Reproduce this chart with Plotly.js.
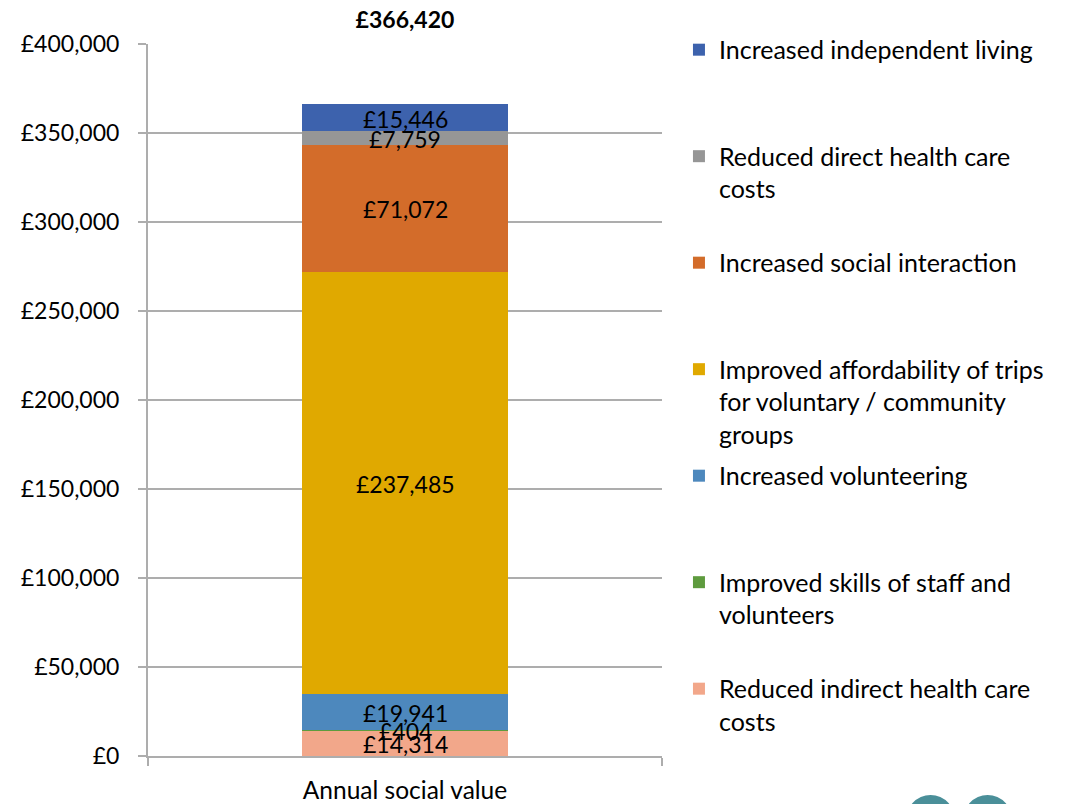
<!DOCTYPE html>
<html>
<head>
<meta charset="utf-8">
<script src="https://cdn.plot.ly/plotly-3.0.1.min.js"></script>
<style>html,body{margin:0;padding:0;background:#fff;}#chart{width:1074px;height:804px;}</style>
</head>
<body>
<div id="chart"></div>
<script>
// ---- data (bottom of the stack first) ----
const category = ["Annual social value"];
const seriesNames = [
  "Reduced indirect health care<br>costs",
  "Improved skills of staff and<br>volunteers",
  "Increased volunteering",
  "Improved affordability of trips<br>for voluntary / community<br>groups",
  "Increased social interaction",
  "Reduced direct health care<br>costs",
  "Increased independent living"
];
const seriesValues = [14314, 404, 19941, 237485, 71072, 7759, 15446];
const seriesColors = ["#F2A78A", "#5E9B3E", "#4D88BD", "#E0A900", "#D36C2A", "#969696", "#3D62AD"];
const totalLabel = 366420;
const yTickValues = [0, 50000, 100000, 150000, 200000, 250000, 300000, 350000, 400000];

const FONT = "Lato, 'Open Sans', sans-serif";
const fmt = v => "£" + v.toLocaleString("en-GB");

function padLines(s, isLast) {
  if (isLast) return s;
  const n = s.split("<br>").length;
  let out = s;
  for (let i = n; i < 3; i++) out += "<br> ";
  return out;
}

const traces = seriesNames.map((name, i) => ({
  type: "bar",
  x: category,
  y: [seriesValues[i]],
  name: padLines(name, i === 0),
  legendgroup: "g" + i,
  legendrank: 1000 - i,
  marker: { color: seriesColors[i], line: { width: 0 } },
  width: 0.4,
  hoverinfo: "skip"
}));

// data labels drawn above all bars, at each segment's middle
const labelY = [];
let cum = 0;
seriesValues.forEach(v => { labelY.push(cum + v / 2); cum += v; });
const labelAnnotations = seriesValues.map((v, i) => ({
  x: category[0], y: labelY[i], xref: "x", yref: "y",
  text: fmt(v), showarrow: false, yshift: -1,
  font: { family: FONT, size: 23, color: "#000000" }
}));

const layout = {
  width: 1074,
  height: 804,
  paper_bgcolor: "#ffffff",
  plot_bgcolor: "#ffffff",
  barmode: "stack",
  margin: { l: 148, r: 412, t: 10, b: 48 },
  font: { family: FONT, size: 23, color: "#000000" },
  title: {
    text: "<b>" + fmt(totalLabel) + "</b>",
    font: { family: FONT, size: 23, color: "#000000" },
    x: 0.5, xref: "paper", xanchor: "center",
    y: 0.9751, yref: "container", yanchor: "middle"
  },
  xaxis: {
    type: "category",
    range: [-0.5, 0.5],
    tickson: "boundaries",
    ticks: "outside",
    ticklen: 8,
    tickwidth: 2,
    tickcolor: "#ADADAD",
    showline: true,
    linecolor: "#ADADAD",
    linewidth: 2,
    showgrid: false,
    zeroline: false,
    ticklabelstandoff: 12,
    tickfont: { family: FONT, size: 24.5, color: "#000000" }
  },
  yaxis: {
    domain: [0, 712 / 746],
    range: [0, 400000],
    tickvals: yTickValues,
    ticktext: yTickValues.map(fmt),
    ticks: "outside",
    ticklen: 8,
    tickwidth: 2,
    tickcolor: "#ADADAD",
    showline: true,
    linecolor: "#ADADAD",
    linewidth: 2,
    showgrid: true,
    gridcolor: "#ADADAD",
    gridwidth: 1.5,
    zeroline: false,
    ticklabelstandoff: 14,
    tickfont: { family: FONT, size: 23, color: "#000000" }
  },
  showlegend: true,
  legend: {
    x: 1.033, xanchor: "left",
    y: 0.9773, yanchor: "top",
    traceorder: "grouped",
    tracegroupgap: 6,
    valign: "top",
    font: { family: FONT, size: 25, color: "#000000" },
    bgcolor: "rgba(0,0,0,0)",
    itemclick: false, itemdoubleclick: false
  },
  annotations: labelAnnotations,
  shapes: [
    { type: "circle", xref: "paper", yref: "paper", x0: 1.473, x1: 1.572, y0: -0.126, y1: -0.0523, fillcolor: "#4A8F99", line: { width: 0 } },
    { type: "circle", xref: "paper", yref: "paper", x0: 1.584, x1: 1.683, y0: -0.126, y1: -0.0523, fillcolor: "#4A8F99", line: { width: 0 } }
  ]
};

Plotly.newPlot("chart", traces, layout, { displayModeBar: false, staticPlot: true });
</script>
</body>
</html>
